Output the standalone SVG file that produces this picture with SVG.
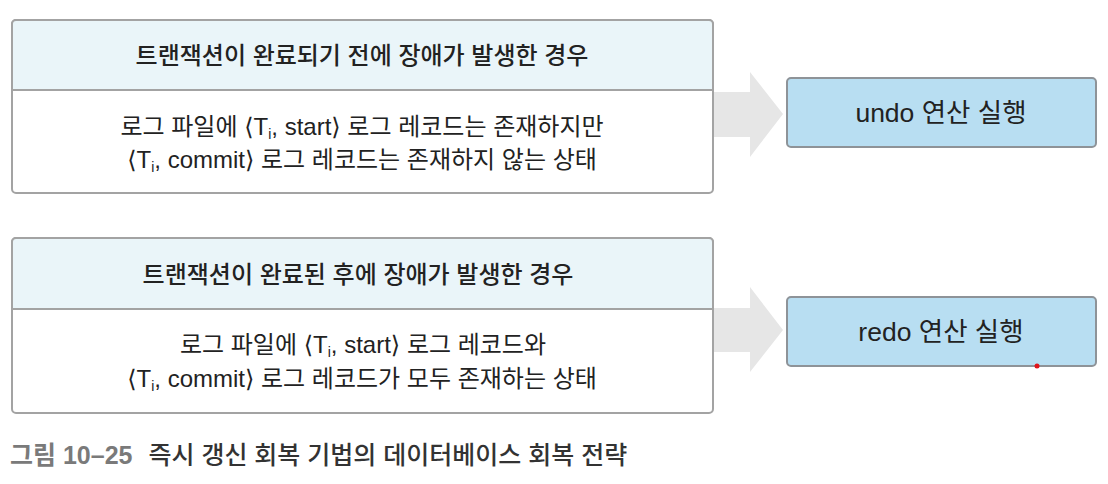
<svg xmlns="http://www.w3.org/2000/svg" width="1108" height="484" viewBox="0 0 1108 484">
<style>
text{font-family:"Liberation Sans","Noto Sans CJK KR","DejaVu Sans",sans-serif;fill:#222;}
.hdr{fill:#eaf5f9;stroke:#a3a3a3;stroke-width:2;}
.body{fill:#ffffff;stroke:#a3a3a3;stroke-width:2;}
.res{fill:#b8def2;stroke:#8e9398;stroke-width:2;}
.arrow{fill:#e6e6e6;}
.ht{font-size:24px;font-weight:500;text-anchor:middle;}
.bt{font-size:24px;text-anchor:middle;}
.rt{font-size:26.5px;text-anchor:middle;}
.sub{font-size:14px;}
</style>
<g id="connectors">
<polygon class="arrow" points="713,92 750,92 750,72 783,114 750,157 750,137 713,137"/>
<polygon class="arrow" points="713,308 750,308 750,287 783,330 750,372 750,352 713,352"/>
</g>
<g id="case1">
<rect class="body" x="12" y="20" width="701" height="173" rx="4"/>
<path class="hdr" d="M12,90 V24 A4,4 0 0 1 16,20 H709 A4,4 0 0 1 713,24 V90 Z"/>
<text class="ht" x="362" y="64">트랜잭션이 완료되기 전에 장애가 발생한 경우</text>
<text class="bt" x="362" y="135">로그 파일에 ⟨T<tspan class="sub" dy="4">i</tspan><tspan dy="-4">, start⟩ 로그 레코드는 존재하지만</tspan></text>
<text class="bt" x="362" y="168">⟨T<tspan class="sub" dy="4">i</tspan><tspan dy="-4">, commit⟩ 로그 레코드는 존재하지 않는 상태</tspan></text>
</g>
<g id="undo">
<rect class="res" x="787" y="78" width="309" height="69" rx="4"/>
<text class="rt" x="941" y="122">undo 연산 실행</text>
</g>
<g id="case2">
<rect class="body" x="12" y="238" width="701" height="175" rx="4"/>
<path class="hdr" d="M12,309 V242 A4,4 0 0 1 16,238 H709 A4,4 0 0 1 713,242 V309 Z"/>
<text class="ht" x="358" y="283">트랜잭션이 완료된 후에 장애가 발생한 경우</text>
<text class="bt" x="363" y="353">로그 파일에 ⟨T<tspan class="sub" dy="4">i</tspan><tspan dy="-4">, start⟩ 로그 레코드와</tspan></text>
<text class="bt" x="362" y="387">⟨T<tspan class="sub" dy="4">i</tspan><tspan dy="-4">, commit⟩ 로그 레코드가 모두 존재하는 상태</tspan></text>
</g>
<g id="redo">
<rect class="res" x="787" y="297" width="309" height="69" rx="4"/>
<text class="rt" x="941" y="341">redo 연산 실행</text>
</g>
<circle cx="1037" cy="366" r="2.5" fill="#e0151b"/>
<g id="caption">
<text x="10" y="464" style="font-size:25px;font-weight:700;fill:#7a7a7a;">그림 10–25<tspan dx="16" style="font-weight:500;fill:#333;">즉시 갱신 회복 기법의 데이터베이스 회복 전략</tspan></text>
</g>
</svg>
